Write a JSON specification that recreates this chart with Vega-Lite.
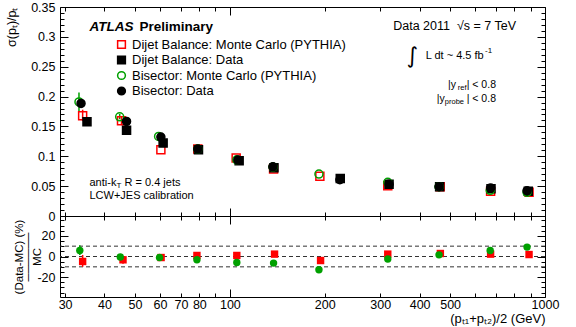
{
  "$schema": "https://vega.github.io/schema/vega-lite/v6.json",
  "padding": {"left": 5, "top": 0, "right": 5, "bottom": 2},
  "spacing": 0,
  "bounds": "flush",
  "config": {
    "font": "Liberation Sans",
    "view": {"stroke": "black", "strokeWidth": 1},
    "axis": {"domain": false, "grid": false, "tickColor": "black", "labelColor": "black", "titleColor": "black", "labelFont": "Liberation Sans", "titleFont": "Liberation Sans", "titleFontWeight": "normal", "labelOverlap": false, "labelFlush": false, "labelBound": false, "tickWidth": 1, "minExtent": 0},
    "legend": {"padding": 0}
  },
  "datasets": {
    "top": [
      {"pt": 34.1, "res": 0.1677, "series": "Dijet Balance: Monte Carlo (PYTHIA)", "lo": 0.159, "hi": 0.178},
      {"pt": 45.3, "res": 0.1594, "series": "Dijet Balance: Monte Carlo (PYTHIA)", "lo": 0.152, "hi": 0.166},
      {"pt": 60.4, "res": 0.1109, "series": "Dijet Balance: Monte Carlo (PYTHIA)"},
      {"pt": 79.1, "res": 0.112, "series": "Dijet Balance: Monte Carlo (PYTHIA)"},
      {"pt": 104.7, "res": 0.097, "series": "Dijet Balance: Monte Carlo (PYTHIA)"},
      {"pt": 137.6, "res": 0.0786, "series": "Dijet Balance: Monte Carlo (PYTHIA)"},
      {"pt": 193, "res": 0.0664, "series": "Dijet Balance: Monte Carlo (PYTHIA)"},
      {"pt": 317, "res": 0.0507, "series": "Dijet Balance: Monte Carlo (PYTHIA)"},
      {"pt": 465, "res": 0.049, "series": "Dijet Balance: Monte Carlo (PYTHIA)"},
      {"pt": 672, "res": 0.0413, "series": "Dijet Balance: Monte Carlo (PYTHIA)"},
      {"pt": 890, "res": 0.0396, "series": "Dijet Balance: Monte Carlo (PYTHIA)"},
      {"pt": 35.2, "res": 0.1577, "series": "Dijet Balance: Data"},
      {"pt": 47.0, "res": 0.1438, "series": "Dijet Balance: Data"},
      {"pt": 61.4, "res": 0.1221, "series": "Dijet Balance: Data"},
      {"pt": 79.5, "res": 0.111, "series": "Dijet Balance: Data"},
      {"pt": 107.0, "res": 0.0925, "series": "Dijet Balance: Data"},
      {"pt": 138, "res": 0.081, "series": "Dijet Balance: Data"},
      {"pt": 224, "res": 0.063, "series": "Dijet Balance: Data"},
      {"pt": 320, "res": 0.053, "series": "Dijet Balance: Data"},
      {"pt": 463, "res": 0.049, "series": "Dijet Balance: Data"},
      {"pt": 674, "res": 0.0457, "series": "Dijet Balance: Data"},
      {"pt": 885, "res": 0.0413, "series": "Dijet Balance: Data"},
      {"pt": 33.2, "res": 0.1911, "series": "Bisector: Monte Carlo (PYTHIA)", "lo": 0.176, "hi": 0.207},
      {"pt": 44.7, "res": 0.166, "series": "Bisector: Monte Carlo (PYTHIA)", "lo": 0.162, "hi": 0.171},
      {"pt": 59.4, "res": 0.1333, "series": "Bisector: Monte Carlo (PYTHIA)", "lo": 0.129, "hi": 0.138},
      {"pt": 79.1, "res": 0.112, "series": "Bisector: Monte Carlo (PYTHIA)"},
      {"pt": 105.2, "res": 0.0941, "series": "Bisector: Monte Carlo (PYTHIA)"},
      {"pt": 137, "res": 0.0819, "series": "Bisector: Monte Carlo (PYTHIA)"},
      {"pt": 191.7, "res": 0.0702, "series": "Bisector: Monte Carlo (PYTHIA)"},
      {"pt": 317, "res": 0.0564, "series": "Bisector: Monte Carlo (PYTHIA)"},
      {"pt": 461, "res": 0.049, "series": "Bisector: Monte Carlo (PYTHIA)"},
      {"pt": 670, "res": 0.043, "series": "Bisector: Monte Carlo (PYTHIA)"},
      {"pt": 877, "res": 0.0396, "series": "Bisector: Monte Carlo (PYTHIA)"},
      {"pt": 33.7, "res": 0.1885, "series": "Bisector: Data"},
      {"pt": 47.0, "res": 0.1584, "series": "Bisector: Data"},
      {"pt": 60.4, "res": 0.1321, "series": "Bisector: Data"},
      {"pt": 79.1, "res": 0.112, "series": "Bisector: Data"},
      {"pt": 106, "res": 0.0936, "series": "Bisector: Data"},
      {"pt": 136.9, "res": 0.0824, "series": "Bisector: Data"},
      {"pt": 223.4, "res": 0.0607, "series": "Bisector: Data"},
      {"pt": 320, "res": 0.053, "series": "Bisector: Data"},
      {"pt": 461, "res": 0.049, "series": "Bisector: Data"},
      {"pt": 672, "res": 0.0468, "series": "Bisector: Data"},
      {"pt": 877, "res": 0.0423, "series": "Bisector: Data"}
    ],
    "ratio": [
      {"pt": 34.1, "r": -4.8, "series": "Dijet", "lo": -10, "hi": 1.5},
      {"pt": 45.8, "r": -3.2, "series": "Dijet", "lo": -7, "hi": 0},
      {"pt": 60.5, "r": -1, "series": "Dijet", "lo": -4, "hi": 2},
      {"pt": 78.6, "r": 1.0, "series": "Dijet", "lo": -2, "hi": 4},
      {"pt": 105.2, "r": 1.0, "series": "Dijet"},
      {"pt": 138.6, "r": 2.3, "series": "Dijet", "lo": -0.5, "hi": 5},
      {"pt": 194, "r": -3.9, "series": "Dijet", "lo": -6.5, "hi": -1.5},
      {"pt": 317, "r": 2.3, "series": "Dijet"},
      {"pt": 465.5, "r": 2.9, "series": "Dijet"},
      {"pt": 672, "r": 2.3, "series": "Dijet"},
      {"pt": 890, "r": 1.9, "series": "Dijet"},
      {"pt": 33.4, "r": 5.8, "series": "Bisector", "lo": 1.5, "hi": 11},
      {"pt": 44.9, "r": -0.5, "series": "Bisector", "lo": -3, "hi": 2},
      {"pt": 59.8, "r": -1, "series": "Bisector"},
      {"pt": 78.6, "r": -3.2, "series": "Bisector"},
      {"pt": 105.2, "r": -5.8, "series": "Bisector"},
      {"pt": 137.6, "r": -6.4, "series": "Bisector"},
      {"pt": 191.7, "r": -12.8, "series": "Bisector"},
      {"pt": 317, "r": -2.5, "series": "Bisector"},
      {"pt": 461, "r": 1.6, "series": "Bisector"},
      {"pt": 670, "r": 5.8, "series": "Bisector"},
      {"pt": 877, "r": 9.1, "series": "Bisector"}
    ],
    "refs": [{"ref": -10}, {"ref": 0}, {"ref": 10}],
    "notes": [
      {"kind": "atlas", "label": "ATLAS", "x": 35.85, "y": 0.317},
      {"kind": "prelim", "label": "Preliminary", "x": 51.67, "y": 0.317},
      {"kind": "right", "label": "Data 2011\u00a0\u00a0√s = 7 TeV", "x": 808.9, "y": 0.318},
      {"kind": "integral", "label": "∫", "x": 379.0, "y": 0.268},
      {"kind": "lumi", "label": "L dt ~ 4.5 fb", "x": 418.1, "y": 0.2672},
      {"kind": "sup", "label": "-1", "x": 644.9, "y": 0.2756},
      {"kind": "cut", "label": "| < 0.8", "x": 698.9, "y": 0.2199},
      {"kind": "cut", "label": "|y", "x": 521.8, "y": 0.2199},
      {"kind": "cut", "label": "| < 0.8", "x": 698.9, "y": 0.1965},
      {"kind": "cut", "label": "|y", "x": 480.9, "y": 0.1965},
      {"kind": "sub", "label": "ref", "x": 563.5, "y": 0.2137},
      {"kind": "sub", "label": "probe", "x": 553.3, "y": 0.1903},
      {"kind": "small", "label": "anti-k", "x": 35.85, "y": 0.0554},
      {"kind": "smallsub", "label": "T", "x": 43.65, "y": 0.050},
      {"kind": "small", "label": "R = 0.4 jets", "x": 46.3, "y": 0.0554},
      {"kind": "small", "label": "LCW+JES calibration", "x": 35.85, "y": 0.033}
    ]
  },
  "vconcat": [
    {
      "width": 485,
      "height": 209,
      "resolve": {"axis": {"x": "independent", "y": "independent"}},
      "layer": [
        {
          "data": {"name": "top"},
          "transform": [{"filter": "isValid(datum.lo) && datum.series == 'Dijet Balance: Monte Carlo (PYTHIA)'"}],
          "mark": {"type": "rule", "strokeWidth": 1.5, "color": "#ff0000"},
          "encoding": {
            "x": {"field": "pt", "type": "quantitative", "scale": {"type": "log", "domain": [28.9, 1000], "nice": false}, "axis": null},
            "y": {"field": "lo", "type": "quantitative", "scale": {"domain": [0, 0.35], "nice": false, "zero": false}, "axis": null},
            "y2": {"field": "hi"}
          }
        },
        {
          "data": {"name": "top"},
          "transform": [{"filter": "isValid(datum.lo) && datum.series == 'Bisector: Monte Carlo (PYTHIA)'"}],
          "mark": {"type": "rule", "strokeWidth": 1.5, "color": "#00a000"},
          "encoding": {
            "x": {"field": "pt", "type": "quantitative", "scale": {"type": "log", "domain": [28.9, 1000], "nice": false}, "axis": null},
            "y": {"field": "lo", "type": "quantitative", "scale": {"domain": [0, 0.35], "nice": false, "zero": false}, "axis": null},
            "y2": {"field": "hi"}
          }
        },
        {
          "data": {"name": "top"},
          "mark": {"type": "point", "size": 64, "strokeWidth": 1.5, "opacity": 1},
          "encoding": {
            "x": {"field": "pt", "type": "quantitative", "scale": {"type": "log", "domain": [28.9, 1000], "nice": false},
              "axis": {"orient": "bottom", "values": [100, 1000], "offset": -8, "tickSize": 8, "labels": false, "title": null}},
            "y": {"field": "res", "type": "quantitative", "scale": {"domain": [0, 0.35], "nice": false, "zero": false},
              "axis": {"orient": "left", "values": [0, 0.05, 0.1, 0.15, 0.2, 0.25, 0.3, 0.35], "offset": -8, "tickSize": 8,
                "labelExpr": "format(datum.value, '~g')", "labelPadding": 5, "labelFontSize": 12.5,
                "title": "σ(pₜ)/pₜ", "titleFontSize": 12.5, "titleAnchor": "end", "titlePadding": 12}},
            "shape": {"field": "series", "type": "nominal", "scale": {"domain": ["Dijet Balance: Monte Carlo (PYTHIA)", "Dijet Balance: Data", "Bisector: Monte Carlo (PYTHIA)", "Bisector: Data"], "range": ["square", "square", "circle", "circle"]}},
            "stroke": {"field": "series", "type": "nominal", "scale": {"domain": ["Dijet Balance: Monte Carlo (PYTHIA)", "Dijet Balance: Data", "Bisector: Monte Carlo (PYTHIA)", "Bisector: Data"], "range": ["#ff0000", "#000000", "#00a000", "#000000"]}},
            "fill": {"field": "series", "type": "nominal", "scale": {"domain": ["Dijet Balance: Monte Carlo (PYTHIA)", "Dijet Balance: Data", "Bisector: Monte Carlo (PYTHIA)", "Bisector: Data"], "range": ["transparent", "#000000", "transparent", "#000000"]},
              "legend": {"orient": "none", "legendX": 55, "legendY": 31, "title": null, "labelFontSize": 13, "labelFont": "Liberation Sans", "labelColor": "black", "symbolSize": 60, "symbolStrokeWidth": 1.5, "rowPadding": 0.5, "labelOffset": 4, "labelLimit": 400}}
          }
        },
        {
          "data": {"name": "top"},
          "mark": {"type": "point", "opacity": 0},
          "encoding": {
            "x": {"field": "pt", "type": "quantitative", "scale": {"type": "log", "domain": [28.9, 1000], "nice": false},
              "axis": {"orient": "bottom", "values": [30,40,50,60,70,80,90,200,300,400,500,600,700,800,900], "offset": -4, "tickSize": 4, "labels": false, "title": null}},
            "y": {"field": "res", "type": "quantitative", "scale": {"domain": [0, 0.35], "nice": false, "zero": false},
              "axis": {"orient": "left", "values": [0.01,0.02,0.03,0.04,0.06,0.07,0.08,0.09,0.11,0.12,0.13,0.14,0.16,0.17,0.18,0.19,0.21,0.22,0.23,0.24,0.26,0.27,0.28,0.29,0.31,0.32,0.33,0.34], "offset": -4, "tickSize": 4, "labels": false, "title": null}}
          }
        },
        {
          "data": {"name": "top"},
          "mark": {"type": "point", "opacity": 0},
          "encoding": {
            "x": {"field": "pt", "type": "quantitative", "scale": {"type": "log", "domain": [28.9, 1000], "nice": false},
              "axis": {"orient": "top", "values": [100, 1000], "offset": -8, "tickSize": 8, "labels": false, "title": null}},
            "y": {"field": "res", "type": "quantitative", "scale": {"domain": [0, 0.35], "nice": false, "zero": false},
              "axis": {"orient": "right", "values": [0, 0.05, 0.1, 0.15, 0.2, 0.25, 0.3, 0.35], "offset": -8, "tickSize": 8, "labels": false, "title": null}}
          }
        },
        {
          "data": {"name": "top"},
          "mark": {"type": "point", "opacity": 0},
          "encoding": {
            "x": {"field": "pt", "type": "quantitative", "scale": {"type": "log", "domain": [28.9, 1000], "nice": false},
              "axis": {"orient": "top", "values": [30,40,50,60,70,80,90,200,300,400,500,600,700,800,900], "offset": -4, "tickSize": 4, "labels": false, "title": null}},
            "y": {"field": "res", "type": "quantitative", "scale": {"domain": [0, 0.35], "nice": false, "zero": false},
              "axis": {"orient": "right", "values": [0.01,0.02,0.03,0.04,0.06,0.07,0.08,0.09,0.11,0.12,0.13,0.14,0.16,0.17,0.18,0.19,0.21,0.22,0.23,0.24,0.26,0.27,0.28,0.29,0.31,0.32,0.33,0.34], "offset": -4, "tickSize": 4, "labels": false, "title": null}}
          }
        },
        {
          "data": {"name": "notes"},
          "transform": [{"filter": "datum.kind == 'atlas'"}],
          "mark": {"type": "text", "font": "Liberation Sans", "fontSize": 13.5, "fontWeight": "bold", "fontStyle": "italic", "align": "left", "baseline": "middle", "color": "black"},
          "encoding": {
            "x": {"field": "x", "type": "quantitative", "scale": {"type": "log", "domain": [28.9, 1000], "nice": false}, "axis": null},
            "y": {"field": "y", "type": "quantitative", "scale": {"domain": [0, 0.35], "nice": false, "zero": false}, "axis": null},
            "text": {"field": "label"}
          }
        },
        {
          "data": {"name": "notes"},
          "transform": [{"filter": "datum.kind == 'prelim'"}],
          "mark": {"type": "text", "font": "Liberation Sans", "fontSize": 13.5, "fontWeight": "bold", "align": "left", "baseline": "middle", "color": "black"},
          "encoding": {
            "x": {"field": "x", "type": "quantitative", "scale": {"type": "log", "domain": [28.9, 1000], "nice": false}, "axis": null},
            "y": {"field": "y", "type": "quantitative", "scale": {"domain": [0, 0.35], "nice": false, "zero": false}, "axis": null},
            "text": {"field": "label"}
          }
        },
        {
          "data": {"name": "notes"},
          "transform": [{"filter": "datum.kind == 'right'"}],
          "mark": {"type": "text", "font": "Liberation Sans", "fontSize": 12.5, "align": "right", "baseline": "middle", "color": "black"},
          "encoding": {
            "x": {"field": "x", "type": "quantitative", "scale": {"type": "log", "domain": [28.9, 1000], "nice": false}, "axis": null},
            "y": {"field": "y", "type": "quantitative", "scale": {"domain": [0, 0.35], "nice": false, "zero": false}, "axis": null},
            "text": {"field": "label"}
          }
        },
        {
          "data": {"name": "notes"},
          "transform": [{"filter": "datum.kind == 'integral'"}],
          "mark": {"type": "text", "font": "DejaVu Sans", "fontSize": 22, "align": "center", "baseline": "middle", "color": "black"},
          "encoding": {
            "x": {"field": "x", "type": "quantitative", "scale": {"type": "log", "domain": [28.9, 1000], "nice": false}, "axis": null},
            "y": {"field": "y", "type": "quantitative", "scale": {"domain": [0, 0.35], "nice": false, "zero": false}, "axis": null},
            "text": {"field": "label"}
          }
        },
        {
          "data": {"name": "notes"},
          "transform": [{"filter": "datum.kind == 'lumi'"}],
          "mark": {"type": "text", "font": "Liberation Sans", "fontSize": 11, "align": "left", "baseline": "middle", "color": "black"},
          "encoding": {
            "x": {"field": "x", "type": "quantitative", "scale": {"type": "log", "domain": [28.9, 1000], "nice": false}, "axis": null},
            "y": {"field": "y", "type": "quantitative", "scale": {"domain": [0, 0.35], "nice": false, "zero": false}, "axis": null},
            "text": {"field": "label"}
          }
        },
        {
          "data": {"name": "notes"},
          "transform": [{"filter": "datum.kind == 'sup'"}],
          "mark": {"type": "text", "font": "Liberation Sans", "fontSize": 8, "align": "left", "baseline": "middle", "color": "black"},
          "encoding": {
            "x": {"field": "x", "type": "quantitative", "scale": {"type": "log", "domain": [28.9, 1000], "nice": false}, "axis": null},
            "y": {"field": "y", "type": "quantitative", "scale": {"domain": [0, 0.35], "nice": false, "zero": false}, "axis": null},
            "text": {"field": "label"}
          }
        },
        {
          "data": {"name": "notes"},
          "transform": [{"filter": "datum.kind == 'cut'"}],
          "mark": {"type": "text", "font": "Liberation Sans", "fontSize": 10.5, "align": "right", "baseline": "middle", "color": "black"},
          "encoding": {
            "x": {"field": "x", "type": "quantitative", "scale": {"type": "log", "domain": [28.9, 1000], "nice": false}, "axis": null},
            "y": {"field": "y", "type": "quantitative", "scale": {"domain": [0, 0.35], "nice": false, "zero": false}, "axis": null},
            "text": {"field": "label"}
          }
        },
        {
          "data": {"name": "notes"},
          "transform": [{"filter": "datum.kind == 'sub'"}],
          "mark": {"type": "text", "font": "Liberation Sans", "fontSize": 7.5, "align": "right", "baseline": "middle", "color": "black"},
          "encoding": {
            "x": {"field": "x", "type": "quantitative", "scale": {"type": "log", "domain": [28.9, 1000], "nice": false}, "axis": null},
            "y": {"field": "y", "type": "quantitative", "scale": {"domain": [0, 0.35], "nice": false, "zero": false}, "axis": null},
            "text": {"field": "label"}
          }
        },
        {
          "data": {"name": "notes"},
          "transform": [{"filter": "datum.kind == 'small'"}],
          "mark": {"type": "text", "font": "Liberation Sans", "fontSize": 11, "align": "left", "baseline": "middle", "color": "black"},
          "encoding": {
            "x": {"field": "x", "type": "quantitative", "scale": {"type": "log", "domain": [28.9, 1000], "nice": false}, "axis": null},
            "y": {"field": "y", "type": "quantitative", "scale": {"domain": [0, 0.35], "nice": false, "zero": false}, "axis": null},
            "text": {"field": "label"}
          }
        },
        {
          "data": {"name": "notes"},
          "transform": [{"filter": "datum.kind == 'smallsub'"}],
          "mark": {"type": "text", "font": "Liberation Sans", "fontSize": 8, "align": "left", "baseline": "middle", "color": "black"},
          "encoding": {
            "x": {"field": "x", "type": "quantitative", "scale": {"type": "log", "domain": [28.9, 1000], "nice": false}, "axis": null},
            "y": {"field": "y", "type": "quantitative", "scale": {"domain": [0, 0.35], "nice": false, "zero": false}, "axis": null},
            "text": {"field": "label"}
          }
        }
      ]
    },
    {
      "width": 485,
      "height": 81,
      "resolve": {"axis": {"x": "independent", "y": "independent"}},
      "layer": [
        {
          "data": {"name": "refs"},
          "mark": {"type": "rule", "strokeDash": [4, 3], "color": "#333333", "strokeWidth": 1},
          "encoding": {
            "y": {"field": "ref", "type": "quantitative", "scale": {"domain": [-39.2, 39.2], "nice": false, "zero": false}, "axis": null}
          }
        },
        {
          "data": {"name": "ratio"},
          "transform": [{"filter": "isValid(datum.lo) && datum.series == 'Dijet'"}],
          "mark": {"type": "rule", "strokeWidth": 1.5, "color": "#ff0000"},
          "encoding": {
            "x": {"field": "pt", "type": "quantitative", "scale": {"type": "log", "domain": [28.9, 1000], "nice": false}, "axis": null},
            "y": {"field": "lo", "type": "quantitative", "scale": {"domain": [-39.2, 39.2], "nice": false, "zero": false}, "axis": null},
            "y2": {"field": "hi"}
          }
        },
        {
          "data": {"name": "ratio"},
          "transform": [{"filter": "isValid(datum.lo) && datum.series == 'Bisector'"}],
          "mark": {"type": "rule", "strokeWidth": 1.5, "color": "#00a000"},
          "encoding": {
            "x": {"field": "pt", "type": "quantitative", "scale": {"type": "log", "domain": [28.9, 1000], "nice": false}, "axis": null},
            "y": {"field": "lo", "type": "quantitative", "scale": {"domain": [-39.2, 39.2], "nice": false, "zero": false}, "axis": null},
            "y2": {"field": "hi"}
          }
        },
        {
          "data": {"name": "ratio"},
          "transform": [{"filter": "datum.series == 'Dijet'"}],
          "mark": {"type": "square", "size": 55, "opacity": 1, "color": "#ff0000"},
          "encoding": {
            "x": {"field": "pt", "type": "quantitative", "scale": {"type": "log", "domain": [28.9, 1000], "nice": false},
              "axis": {"orient": "bottom", "values": [30,40,50,60,70,80,90,200,300,400,500,600,700,800,900], "offset": -4, "tickSize": 4,
                "labelExpr": "indexof([90,600,700,800,900], datum.value) >= 0 ? '' : '' + datum.value",
                "labelPadding": 1, "labelFontSize": 12.5,
                "title": "(pₜ₁+pₜ₂)/2 (GeV)", "titleFontSize": 13, "titleAnchor": "end", "titlePadding": 2}},
            "y": {"field": "r", "type": "quantitative", "scale": {"domain": [-39.2, 39.2], "nice": false, "zero": false},
              "axis": {"orient": "left", "values": [-20, 0, 20], "offset": -8, "tickSize": 8,
                "labelExpr": "'' + datum.value", "labelPadding": 5, "labelFontSize": 12.5,
                "title": ["(Data-MC)\u00a0(%)", "──────\u00a0\u00a0\u00a0\u00a0\u00a0\u00a0", "MC\u00a0\u00a0\u00a0\u00a0\u00a0\u00a0"], "titleFontSize": 11.5, "titleLineHeight": 9, "titlePadding": -6}}
          }
        },
        {
          "data": {"name": "ratio"},
          "transform": [{"filter": "datum.series == 'Bisector'"}],
          "mark": {"type": "circle", "size": 55, "opacity": 1, "color": "#00a000"},
          "encoding": {
            "x": {"field": "pt", "type": "quantitative", "scale": {"type": "log", "domain": [28.9, 1000], "nice": false},
              "axis": {"orient": "bottom", "values": [100, 1000], "offset": -8, "tickSize": 8, "labelExpr": "'' + datum.value", "labelPadding": 1, "labelFontSize": 12.5, "title": null}},
            "y": {"field": "r", "type": "quantitative", "scale": {"domain": [-39.2, 39.2], "nice": false, "zero": false},
              "axis": {"orient": "left", "values": [-35,-30,-25,-15,-10,-5,5,10,15,25,30,35], "offset": -4, "tickSize": 4, "labels": false, "title": null}}
          }
        },
        {
          "data": {"name": "ratio"},
          "mark": {"type": "point", "opacity": 0},
          "encoding": {
            "x": {"field": "pt", "type": "quantitative", "scale": {"type": "log", "domain": [28.9, 1000], "nice": false},
              "axis": {"orient": "top", "values": [100, 1000], "offset": -8, "tickSize": 8, "labels": false, "title": null}},
            "y": {"field": "r", "type": "quantitative", "scale": {"domain": [-39.2, 39.2], "nice": false, "zero": false},
              "axis": {"orient": "right", "values": [-20, 0, 20], "offset": -8, "tickSize": 8, "labels": false, "title": null}}
          }
        },
        {
          "data": {"name": "ratio"},
          "mark": {"type": "point", "opacity": 0},
          "encoding": {
            "x": {"field": "pt", "type": "quantitative", "scale": {"type": "log", "domain": [28.9, 1000], "nice": false},
              "axis": {"orient": "top", "values": [30,40,50,60,70,80,90,200,300,400,500,600,700,800,900], "offset": -4, "tickSize": 4, "labels": false, "title": null}},
            "y": {"field": "r", "type": "quantitative", "scale": {"domain": [-39.2, 39.2], "nice": false, "zero": false},
              "axis": {"orient": "right", "values": [-35,-30,-25,-15,-10,-5,5,10,15,25,30,35], "offset": -4, "tickSize": 4, "labels": false, "title": null}}
          }
        }
      ]
    }
  ]
}
